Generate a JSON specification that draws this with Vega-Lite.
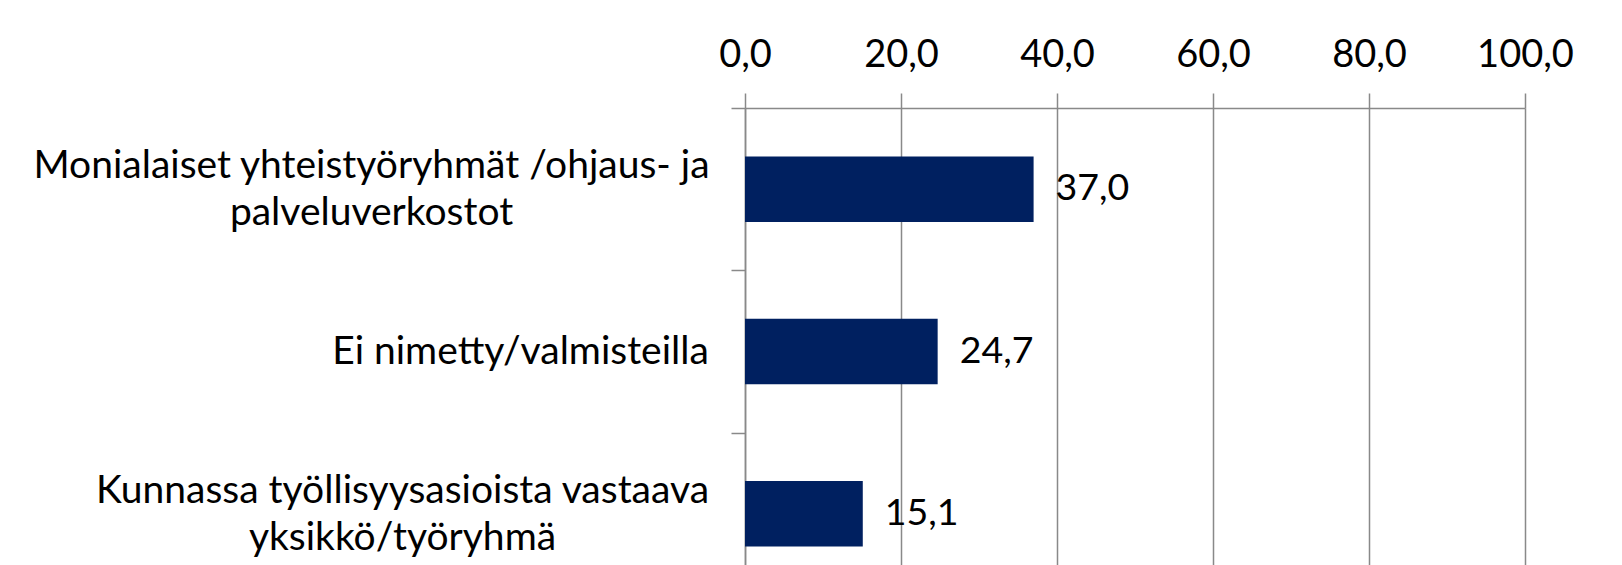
{
  "$schema": "https://vega.github.io/schema/vega-lite/v6.json",
  "width": 780,
  "height": 457,
  "autosize": {"type": "none"},
  "padding": {"left": 745, "top": 108, "right": 97, "bottom": 0},
  "background": "white",
  "data": {
    "values": [
      {"kategoria": "Monialaiset yhteistyöryhmät /ohjaus- ja palveluverkostot", "osuus": 37.0},
      {"kategoria": "Ei nimetty/valmisteilla", "osuus": 24.7},
      {"kategoria": "Kunnassa työllisyysasioista vastaava yksikkö/työryhmä", "osuus": 15.1}
    ]
  },
  "encoding": {
    "y": {
      "field": "kategoria",
      "type": "nominal",
      "sort": null,
      "scale": {"range": [0, 487], "paddingInner": 0.596, "paddingOuter": 0.298},
      "axis": {
        "title": null,
        "tickOffset": -81.15,
        "labelOffset": {"condition": {"test": "datum.value == 'Ei nimetty/valmisteilla'", "value": 81.15}, "value": 57.65},
        "labelPadding": {"condition": [{"test": "datum.value == 'Ei nimetty/valmisteilla'", "value": 211}, {"test": "datum.value == 'Kunnassa työllisyysasioista vastaava yksikkö/työryhmä'", "value": 329}], "value": 360},
        "tickSize": 14,
        "tickColor": "#898989",
        "tickWidth": 1.5,
        "domainColor": "#898989",
        "domainWidth": 1.5,
        "labelFont": "Lato",
        "labelFontSize": 39,
        "labelLineHeight": 47,
        "labelColor": "#000000",
        "labelLimit": 900,
        "labelAlign": "center",
        "labelBaseline": "middle",
        "labelExpr": "datum.label == 'Monialaiset yhteistyöryhmät /ohjaus- ja palveluverkostot' ? ['Monialaiset yhteistyöryhmät /ohjaus- ja', 'palveluverkostot'] : datum.label == 'Kunnassa työllisyysasioista vastaava yksikkö/työryhmä' ? ['Kunnassa työllisyysasioista vastaava', 'yksikkö/työryhmä'] : datum.label"
      }
    }
  },
  "layer": [
    {
      "mark": {"type": "bar", "color": "#002060"},
      "encoding": {
        "x": {
          "field": "osuus",
          "type": "quantitative",
          "scale": {"domain": [0, 100], "nice": false},
          "axis": {
            "orient": "top",
            "title": null,
            "values": [0, 20, 40, 60, 80, 100],
            "format": ".1f",
            "grid": true,
            "gridColor": "#898989",
            "gridWidth": 1.5,
            "tickSize": 15,
            "tickColor": "#898989",
            "tickWidth": 1.5,
            "domainColor": "#898989",
            "domainWidth": 1.5,
            "labelFont": "Lato",
            "labelFontSize": 38,
            "labelColor": "#000000",
            "labelBaseline": "alphabetic",
            "labelPadding": 27,
            "labelFlush": false,
            "labelOverlap": false
          }
        }
      }
    },
    {
      "mark": {"type": "text", "align": "left", "baseline": "middle", "dx": 22, "font": "Lato", "fontSize": 37.5, "color": "#000000"},
      "encoding": {
        "x": {"field": "osuus", "type": "quantitative"},
        "text": {"field": "osuus", "type": "quantitative", "format": ".1f"}
      }
    }
  ],
  "config": {
    "locale": {
      "number": {"decimal": ",", "thousands": "\u00a0", "grouping": [3], "currency": ["", "\u00a0€"]}
    },
    "view": {"stroke": null}
  }
}
